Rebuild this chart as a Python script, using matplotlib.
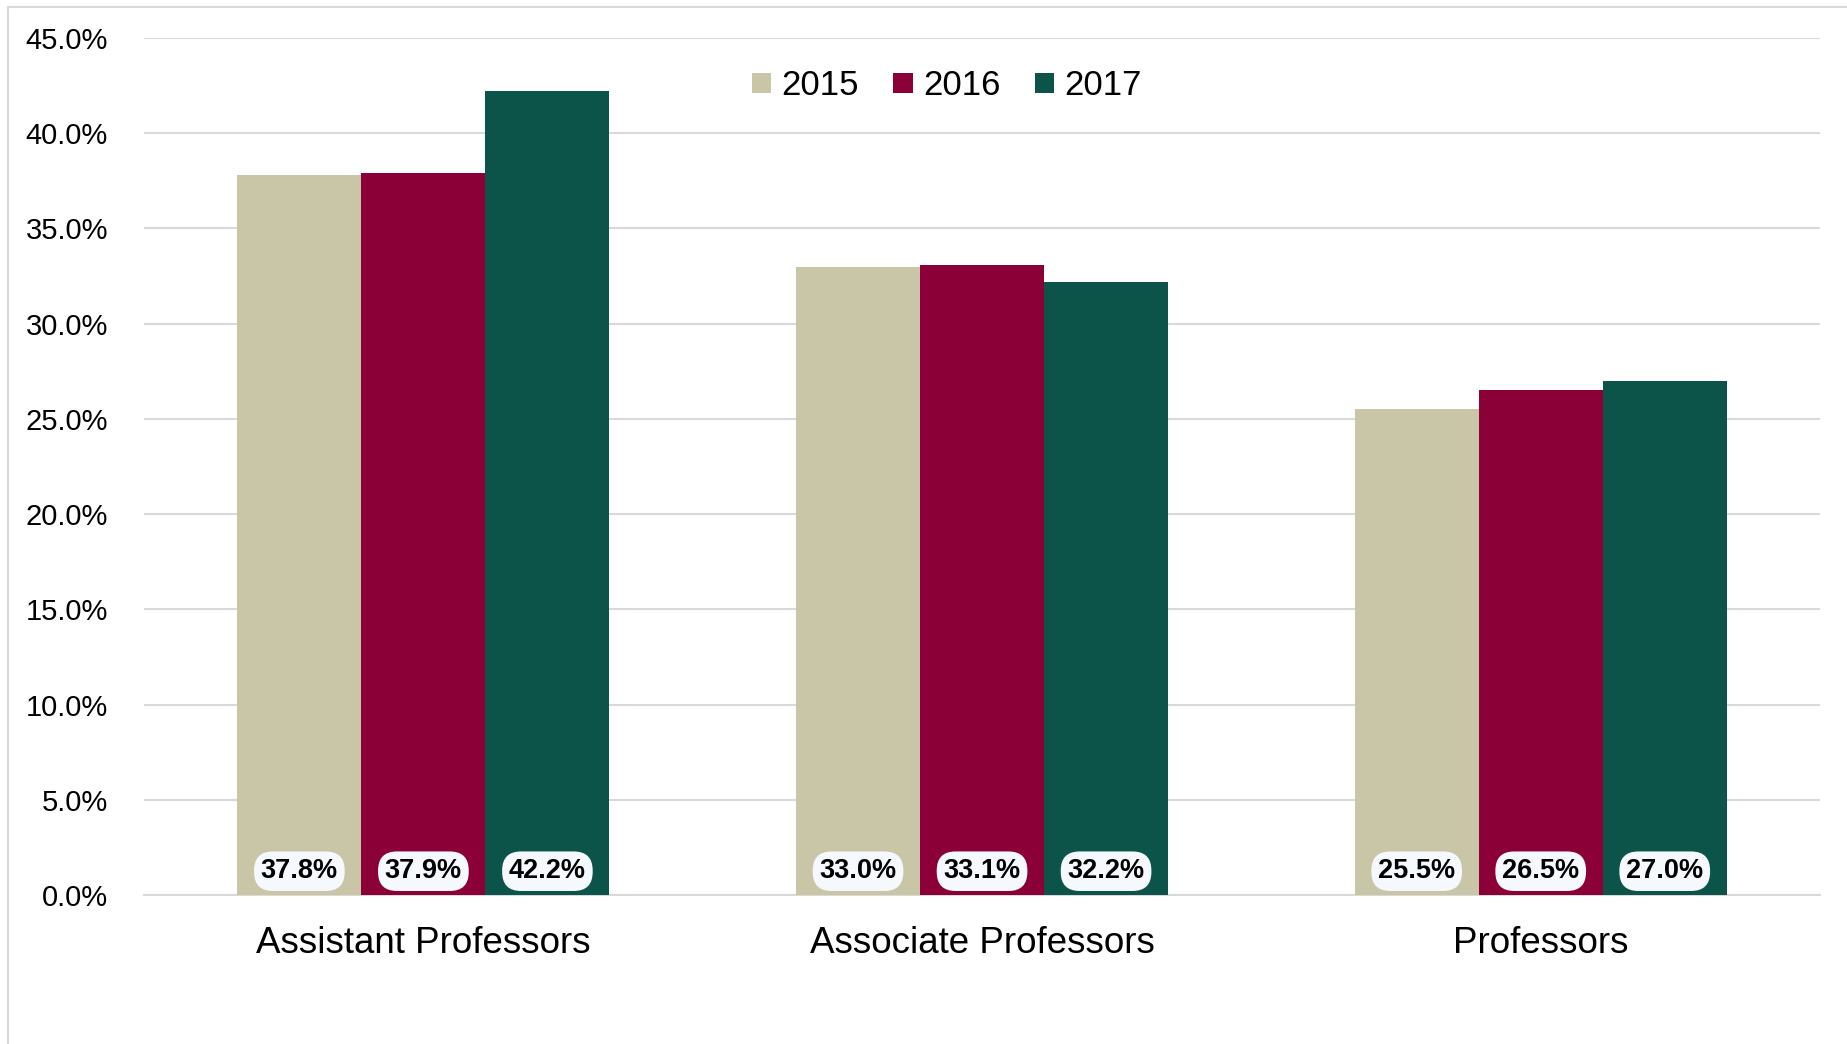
import numpy as np
import matplotlib.pyplot as plt
from matplotlib.lines import Line2D

# ---------------- DATA ----------------

categories = ["Assistant Professors", "Associate Professors", "Professors"]
years = ["2015", "2016", "2017"]
values_2015 = [37.8, 33.0, 25.5]
values_2016 = [37.9, 33.1, 26.5]
values_2017 = [42.2, 32.2, 27.0]
colors = ["#C9C5A7", "#8B0037", "#0C5449"]

y_ticks = [0, 5, 10, 15, 20, 25, 30, 35, 40, 45]

# --------------------------------------

plt.rcParams["font.family"] = ["Liberation Sans", "DejaVu Sans"]

fig = plt.figure(figsize=(18.47, 10.44), dpi=100)
ax = fig.add_axes([0.078, 0.1427, 0.9074, 0.8209])

series = [values_2015, values_2016, values_2017]
x = np.arange(len(categories))
width = 0.222

for i, (year, vals, col) in enumerate(zip(years, series, colors)):
    pos = x + (i - 1) * width
    ax.bar(pos, vals, width=width, color=col, label=year, zorder=3)
    for px, v in zip(pos, vals):
        ax.text(px, 1.25, f"{v:.1f}%", ha="center", va="center",
                fontsize=19.5, fontweight="bold", color="black", zorder=5,
                bbox=dict(boxstyle="round,pad=0.25,rounding_size=0.7",
                          facecolor="#F5F8FC", edgecolor="none"))

ax.set_xlim(-0.5, 2.5)
ax.set_ylim(0, 45)
ax.set_yticks(y_ticks)
ax.set_yticklabels([f"{t:.1f}%" for t in y_ticks])
ax.set_xticks(x)
ax.set_xticklabels(categories)
ax.tick_params(axis="y", length=0, pad=26, labelsize=21)
ax.tick_params(axis="x", length=0, pad=22, labelsize=26.5)

ax.grid(axis="y", color="#D9D9D9", linewidth=1.5, zorder=0)
for side in ["top", "right", "left"]:
    ax.spines[side].set_visible(False)
ax.spines["bottom"].set_color("#D9D9D9")
ax.spines["bottom"].set_linewidth(1.5)

ax.legend(loc="upper center", bbox_to_anchor=(0.479, 1.0), ncol=3,
          frameon=False, fontsize=25, handlelength=0.55, handleheight=0.55,
          handletextpad=0.3, columnspacing=1.0)

# outer frame (left and top only)
fig.add_artist(Line2D([8 / 1847, 8 / 1847], [0, 1 - 7 / 1044],
                      transform=fig.transFigure, color="#D9D9D9", linewidth=1.5))
fig.add_artist(Line2D([8 / 1847, 1], [1 - 7 / 1044, 1 - 7 / 1044],
                      transform=fig.transFigure, color="#D9D9D9", linewidth=1.5))

plt.savefig("out.png", dpi=100)
